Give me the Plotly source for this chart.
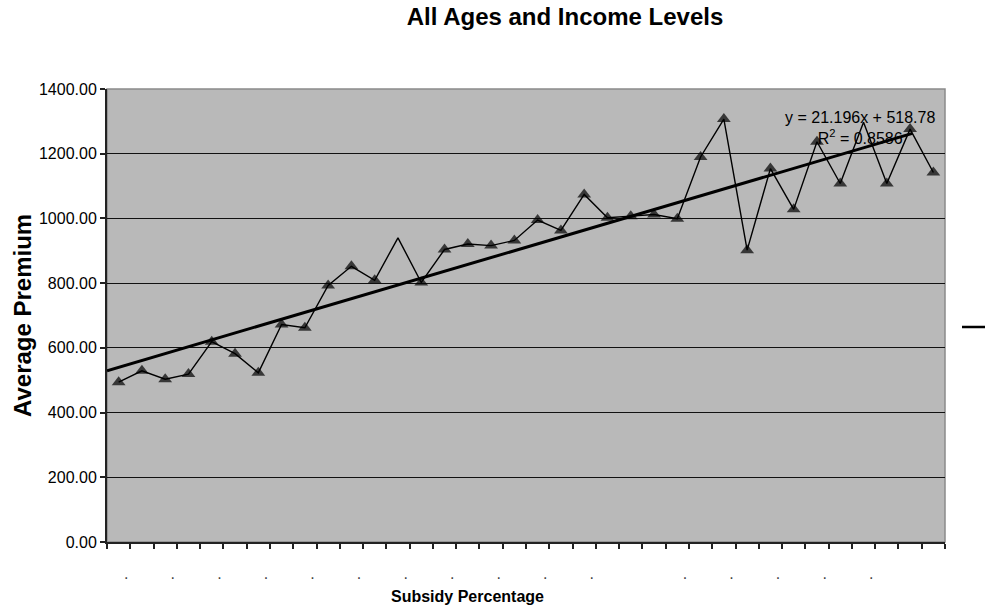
import plotly.graph_objects as go
import numpy as np

# Average premium per subsidy bracket (36 brackets along the category axis)
categories = list(range(1, 37))
average_premium = [
    494, 529, 503, 519, 619, 582, 523, 672, 662, 793, 852, 809,
    940, 802, 904, 921, 916, 932, 995, 963, 1074, 1002, 1007, 1012,
    999, 1190, 1307, 902, 1154, 1028, 1237, 1108, 1297, 1108, 1276, 1142,
]
# Points drawn without a marker symbol (1-based bracket numbers)
no_marker_points = [13, 33]

# Category axis labels (only every other bracket shows its clipped label)
tick_positions = [c + 0.5 for c in [0] + categories]
tick_labels = [""] * len(tick_positions)
for c in [1, 3, 5, 7, 9, 11, 13, 15, 17, 19, 21, 25, 27, 29, 31, 33]:
    tick_labels[c] = "."

y_ticks = [0, 200, 400, 600, 800, 1000, 1200, 1400]

# Linear trend reported on the chart
SLOPE = 21.196
INTERCEPT = 518.78
R_SQUARED = 0.8586

FONT = "Arial, 'Liberation Sans', sans-serif"

trend_x = np.array([0.5, 35.1])
trend_y = SLOPE * trend_x + INTERCEPT

marker_sizes = [0 if c in no_marker_points else 12 for c in categories]

fig = go.Figure()
fig.add_trace(go.Scatter(
    x=categories, y=average_premium, mode="lines+markers",
    line=dict(color="black", width=1.4),
    marker=dict(symbol="triangle-up", size=marker_sizes, color="black",
                line=dict(width=0)),
    showlegend=False, cliponaxis=False,
))
fig.add_trace(go.Scatter(
    x=trend_x, y=trend_y, mode="lines",
    line=dict(color="black", width=3),
    showlegend=False,
))

fig.update_layout(
    width=985, height=605,
    margin=dict(l=107, r=40, t=89, b=63, autoexpand=False),
    paper_bgcolor="white",
    plot_bgcolor="#b9b9b9",
    font=dict(family=FONT, color="black", size=16),
    title=dict(
        text="<b>All Ages and Income Levels</b>",
        font=dict(family=FONT, size=24, color="black"),
        x=565 / 985, xanchor="center", xref="container",
        y=1 - 17 / 605, yanchor="middle", yref="container",
    ),
    xaxis=dict(
        range=[0.5, 36.5], tickmode="array",
        tickvals=tick_positions, ticktext=tick_labels,
        ticks="outside", ticklen=5, tickwidth=1.5, tickcolor="#222",
        tickfont=dict(size=16, color="#444"),
        ticklabelshift=-4, ticklabelstandoff=11,
        showgrid=False, zeroline=False,
        showline=True, linecolor="#222", linewidth=2,
    ),
    yaxis=dict(
        range=[0, 1400], tickmode="array", tickvals=y_ticks,
        tickformat=".2f",
        ticks="outside", ticklen=5, tickwidth=1.5, tickcolor="#222",
        tickfont=dict(size=16, color="black"),
        showgrid=True, gridcolor="#111", gridwidth=1.2,
        zeroline=False,
        showline=True, linecolor="#222", linewidth=2,
    ),
    shapes=[
        # plot area frame (top and right edges)
        dict(type="rect", xref="paper", yref="paper", x0=0, x1=1, y0=0, y1=1,
             line=dict(color="#8a8a8a", width=1.5), layer="below"),
        # partly visible legend key at the right edge
        dict(type="line", xref="paper", yref="paper",
             x0=(962 - 107) / 838, x1=(995 - 107) / 838,
             y0=(542 - 327) / 453, y1=(542 - 327) / 453,
             line=dict(color="black", width=2.5)),
    ],
    annotations=[
        dict(text="<b>Average Premium</b>", textangle=-90,
             xref="paper", yref="paper", x=(22.5 - 107) / 838, y=0.5,
             xanchor="center", yanchor="middle", showarrow=False,
             font=dict(family=FONT, size=24, color="black")),
        dict(text="<b>Subsidy Percentage</b>",
             xref="paper", yref="paper", x=(467.5 - 107) / 838, y=(542 - 596) / 453,
             xanchor="center", yanchor="middle", showarrow=False,
             font=dict(family=FONT, size=16, color="black")),
        dict(text=f"y = {SLOPE}x + {INTERCEPT}<br>R<sup>2</sup> = {R_SQUARED}",
             xref="paper", yref="paper", x=(860 - 107) / 838, y=(542 - 128) / 453,
             xanchor="center", yanchor="middle", align="center", showarrow=False,
             font=dict(family=FONT, size=16, color="black")),
    ],
)

fig.write_html("out.html")
